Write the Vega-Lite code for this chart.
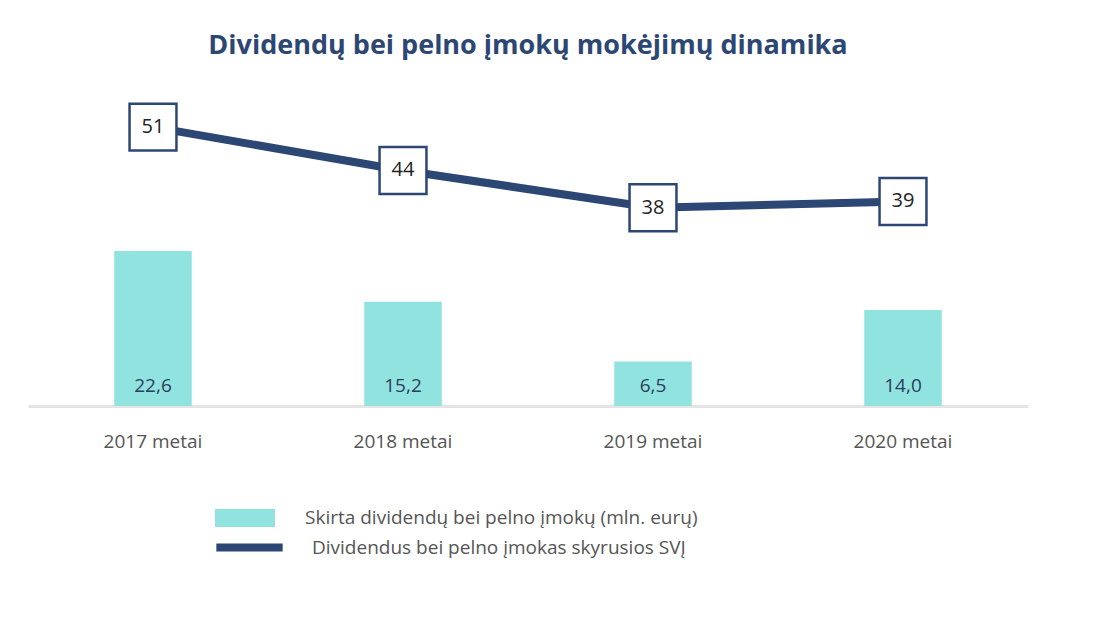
{
  "$schema": "https://vega.github.io/schema/vega-lite/v6.json",
  "width": 1000,
  "height": 326,
  "autosize": "none",
  "padding": {"left": 28, "top": 80, "right": 68, "bottom": 212},
  "background": "white",
  "config": {"font": "Open Sans", "view": {"stroke": null}},
  "title": {
    "text": "Dividendų bei pelno įmokų mokėjimų dinamika",
    "fontSize": 27, "fontWeight": "bold", "color": "#2c4774", "font": "Open Sans",
    "anchor": "middle", "offset": 20
  },
  "data": {"values": [
    {"metai": "2017 metai", "suma": 22.6, "sv": 51, "suma_t": "22,6"},
    {"metai": "2018 metai", "suma": 15.2, "sv": 44, "suma_t": "15,2"},
    {"metai": "2019 metai", "suma": 6.5, "sv": 38, "suma_t": "6,5"},
    {"metai": "2020 metai", "suma": 14.0, "sv": 39, "suma_t": "14,0"}
  ]},
  "encoding": {
    "x": {"field": "metai", "type": "nominal", "title": null,
      "scale": {"paddingInner": 0.69, "paddingOuter": 0.345},
      "axis": {"labelAngle": 0, "ticks": false, "domainColor": "#e4e4e4", "domainWidth": 3,
        "labelFontSize": 19, "labelColor": "#555", "labelPadding": 26}}
  },
  "layer": [
    {
      "layer": [
        {"mark": {"type": "bar"},
          "encoding": {
            "y": {"field": "suma", "type": "quantitative", "scale": {"domain": [0, 47.5]}, "axis": null},
            "fill": {"datum": "Skirta dividendų bei pelno įmokų (mln. eurų)", "type": "nominal",
              "scale": {"range": ["#91e3df"]},
              "legend": {"title": null, "orient": "none", "legendX": 187, "legendY": 408,
                "symbolType": "M-1,-0.3H1V0.3H-1Z", "symbolSize": 3600, "labelFontSize": 19,
                "labelColor": "#555", "labelOffset": 30, "labelLimit": 800, "symbolStrokeWidth": 0}}
          }},
        {"mark": {"type": "text", "fontSize": 19, "color": "#2c3e5c", "baseline": "bottom", "dy": -10},
          "encoding": {
            "y": {"datum": 0, "type": "quantitative", "scale": {"domain": [0, 47.5]}, "axis": null},
            "text": {"field": "suma_t"}
          }}
      ]
    },
    {
      "layer": [
        {"mark": {"type": "line", "strokeWidth": 8},
          "encoding": {
            "y": {"field": "sv", "type": "quantitative", "scale": {"domain": [6, 58.6]}, "axis": null},
            "stroke": {"datum": "Dividendus bei pelno įmokas skyrusios SVĮ", "type": "nominal",
              "scale": {"range": ["#2c4774"]},
              "legend": {"title": null, "orient": "none", "legendX": 184, "legendY": 430,
                "symbolType": "stroke", "symbolSize": 4400, "symbolStrokeWidth": 8,
                "labelFontSize": 19, "labelColor": "#555", "labelOffset": 25, "labelLimit": 800}}
          }},
        {"mark": {"type": "square", "size": 2200, "fill": "white", "stroke": "#2c4774", "strokeWidth": 2.5, "opacity": 1},
          "encoding": {"y": {"field": "sv", "type": "quantitative", "scale": {"domain": [6, 58.6]}, "axis": null}}},
        {"mark": {"type": "text", "fontSize": 20, "color": "#222"},
          "encoding": {
            "y": {"field": "sv", "type": "quantitative", "scale": {"domain": [6, 58.6]}, "axis": null},
            "text": {"field": "sv"}
          }}
      ]
    }
  ],
  "resolve": {"scale": {"y": "independent"}}
}
